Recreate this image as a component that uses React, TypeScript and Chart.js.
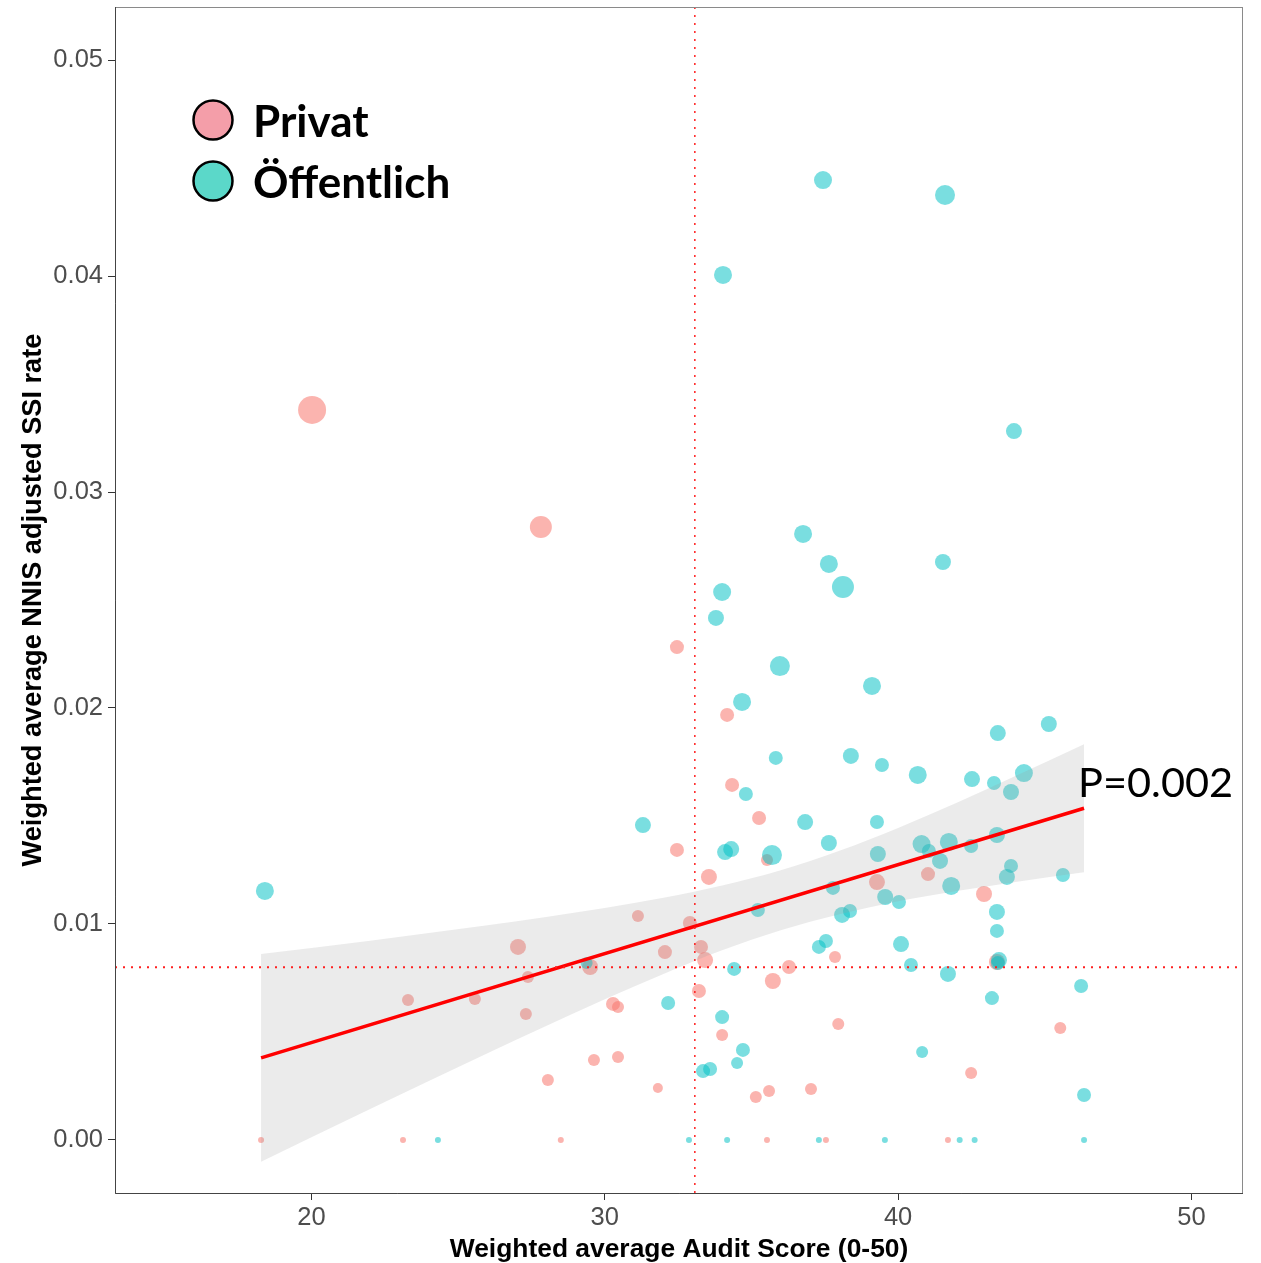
import React, { useEffect, useRef } from 'react';
import { Chart, registerables } from 'chart.js';

Chart.register(...registerables);

// ---- Data ----
const privatX = [20.02, 27.82, 32.46, 34.17, 34.34, 35.26, 32.46, 35.53, 33.55, 39.28, 41.02, 42.93, 31.13, 32.90, 27.04, 33.28, 32.05, 33.42, 27.38, 36.28, 37.85, 43.37, 29.50, 33.21, 35.73, 23.29, 25.57, 27.31, 30.28, 30.45, 34.00, 37.96, 45.53, 29.63, 30.45, 28.06, 31.81, 35.15, 35.60, 37.03, 42.49, 18.28, 23.12, 28.50, 35.53, 37.54, 41.70];
const privatY = [0.0338, 0.02838, 0.02282, 0.01968, 0.01644, 0.01491, 0.01343, 0.01296, 0.01218, 0.01194, 0.01231, 0.01139, 0.01037, 0.01005, 0.00894, 0.00894, 0.0087, 0.00833, 0.00755, 0.00801, 0.00847, 0.00824, 0.00801, 0.0069, 0.00736, 0.00648, 0.00653, 0.00583, 0.0063, 0.00616, 0.00486, 0.00537, 0.00519, 0.0037, 0.00384, 0.00278, 0.00241, 0.00199, 0.00227, 0.00236, 0.0031, 0, 0, 0, 0, 0, 0];
const privatWeight = [784, 484, 196, 196, 196, 196, 196, 144, 256, 256, 196, 256, 144, 196, 256, 196, 196, 256, 144, 196, 144, 256, 256, 196, 256, 144, 144, 144, 196, 144, 144, 144, 144, 144, 144, 144, 100, 144, 144, 144, 144, 36, 36, 36, 36, 36, 36];

const oeffX = [37.44, 41.60, 34.03, 18.41, 43.95, 36.76, 37.64, 38.12, 41.53, 34.00, 33.79, 35.97, 39.11, 34.68, 45.14, 43.40, 35.83, 38.39, 39.45, 40.67, 42.52, 43.27, 44.29, 43.85, 34.81, 31.30, 36.83, 39.28, 37.64, 34.10, 34.31, 35.70, 40.80, 41.73, 41.05, 43.37, 39.31, 41.43, 42.49, 43.85, 43.71, 45.62, 37.78, 39.56, 40.03, 41.81, 35.22, 38.09, 38.36, 43.37, 43.37, 37.30, 37.54, 40.10, 40.44, 43.44, 43.40, 34.41, 41.70, 46.24, 32.16, 43.20, 34.00, 34.71, 34.51, 33.35, 33.59, 40.82, 46.34, 29.38, 24.31, 32.87, 34.17, 37.30, 39.55, 42.10, 42.61, 46.34];
const oeffY = [0.04444, 0.04375, 0.04005, 0.01153, 0.03282, 0.02806, 0.02667, 0.0256, 0.02676, 0.02537, 0.02417, 0.02194, 0.02102, 0.02028, 0.01926, 0.01884, 0.01769, 0.01778, 0.01736, 0.0169, 0.01671, 0.01653, 0.01699, 0.01611, 0.01602, 0.01458, 0.01472, 0.01472, 0.01375, 0.01333, 0.01347, 0.01319, 0.0137, 0.0138, 0.01338, 0.01412, 0.01324, 0.01292, 0.01361, 0.01269, 0.01218, 0.01227, 0.01167, 0.01125, 0.01102, 0.01176, 0.01065, 0.01042, 0.0106, 0.01056, 0.00968, 0.00894, 0.00921, 0.00907, 0.0081, 0.00833, 0.00819, 0.00792, 0.00769, 0.00713, 0.00634, 0.00657, 0.00569, 0.00417, 0.00356, 0.00319, 0.00329, 0.00407, 0.00208, 0.00819, 0, 0, 0, 0, 0, 0, 0, 0];
const oeffWeight = [324, 400, 324, 324, 256, 324, 324, 484, 256, 324, 256, 400, 324, 324, 256, 256, 196, 256, 196, 324, 256, 196, 324, 256, 196, 256, 256, 196, 256, 256, 256, 400, 324, 324, 196, 256, 256, 256, 196, 196, 256, 196, 196, 256, 196, 324, 196, 256, 196, 256, 196, 196, 196, 256, 196, 256, 196, 196, 256, 196, 196, 196, 196, 196, 144, 196, 196, 144, 196, 144, 36, 36, 36, 36, 36, 36, 36, 36];

// regression fit and its confidence band
const fitX = [18.28, 46.34];
const fitY = [0.0038, 0.01536];
const bandX = [18.28, 22, 26, 30, 32, 34, 36, 38, 40, 42, 44, 46.34];
const bandUpper = [0.00861, 0.00923, 0.00994, 0.01074, 0.01121, 0.01178, 0.01249, 0.01339, 0.01445, 0.01561, 0.01685, 0.01832];
const bandLower = [-0.00101, 0.00143, 0.00402, 0.00652, 0.00769, 0.00878, 0.00971, 0.01045, 0.01105, 0.01153, 0.01195, 0.0124];

// reference lines
const refX = 33.07;
const refY = 0.008;

// axes
const xTicks = [20, 30, 40, 50];
const yTicks = [0, 0.01, 0.02, 0.03, 0.04, 0.05];
const xRange = [13.3, 51.76];
const yRange = [-0.002454, 0.052454];

const seriesNames = ['Privat', 'Öffentlich'];
const pValueText = 'P=0.002';
const xTitle = 'Weighted average Audit Score (0-50)';
const yTitle = 'Weighted average NNIS adjusted SSI rate';

const radiusOf = (w: number) => Math.sqrt(w) / 2;

const overlayPlugin = {
  id: 'overlay',
  afterDraw(chart: any) {
    const { ctx, chartArea } = chart;
    ctx.save();
    // panel border
    ctx.strokeStyle = '#8a8a8a';
    ctx.lineWidth = 1;
    ctx.strokeRect(chartArea.left + 0.5, chartArea.top + 0.5, chartArea.right - chartArea.left - 1, chartArea.bottom - chartArea.top);
    ctx.strokeStyle = '#444';
    ctx.beginPath();
    ctx.moveTo(chartArea.left + 0.5, chartArea.top);
    ctx.lineTo(chartArea.left + 0.5, chartArea.bottom + 0.5);
    ctx.lineTo(chartArea.right, chartArea.bottom + 0.5);
    ctx.stroke();

    // legend
    const legendColors = ['#F49EA9', '#5BD8C9'];
    const cx = chartArea.left + 98;
    const rows = [chartArea.top + 113, chartArea.top + 174];
    seriesNames.forEach((name, i) => {
      ctx.beginPath();
      ctx.arc(cx, rows[i], 19.5, 0, Math.PI * 2);
      ctx.fillStyle = legendColors[i];
      ctx.fill();
      ctx.lineWidth = 2.5;
      ctx.strokeStyle = '#000';
      ctx.stroke();
      ctx.fillStyle = '#000';
      ctx.font = 'bold 44px Lato, "Open Sans", sans-serif';
      ctx.textAlign = 'left';
      ctx.textBaseline = 'alphabetic';
      ctx.fillText(name, cx + 40, rows[i] + 17);
    });

    // p-value
    const xs = chart.scales.x;
    const ys = chart.scales.y;
    ctx.font = '41.5px Lato, "Open Sans", sans-serif';
    ctx.fillStyle = '#000';
    ctx.textAlign = 'left';
    ctx.textBaseline = 'alphabetic';
    ctx.fillText(pValueText, xs.getPixelForValue(fitX[1]) - 6, ys.getPixelForValue(fitY[1]) - 11);
    ctx.restore();
  },
};

export default function App() {
  const ref = useRef<HTMLCanvasElement | null>(null);

  useEffect(() => {
    if (!ref.current) return;
    const tickFont = { family: '"Liberation Sans", Arial, sans-serif', size: 25.5 };
    const xTitleFont = { family: '"Liberation Sans", Arial, sans-serif', size: 26.4, weight: 'bold' as const };
    const yTitleFont = { family: '"Liberation Sans", Arial, sans-serif', size: 27.2, weight: 'bold' as const };

    const chart = new Chart(ref.current, {
      type: 'scatter',
      data: {
        datasets: [
          {
            type: 'line',
            label: 'refH',
            data: [{ x: xRange[0], y: refY }, { x: xRange[1], y: refY }],
            borderColor: '#FF2020',
            borderWidth: 2,
            borderDash: [2, 6],
            pointRadius: 0,
            fill: false,
            order: 0,
          } as any,
          {
            type: 'line',
            label: 'refV',
            data: [{ x: refX, y: yRange[0] }, { x: refX, y: yRange[1] }],
            borderColor: '#FF2020',
            borderWidth: 1.5,
            borderDash: [2, 6],
            pointRadius: 0,
            fill: false,
            order: 0,
          } as any,
          {
            type: 'line',
            label: 'fit',
            data: fitX.map((x, i) => ({ x, y: fitY[i] })),
            borderColor: '#FF0000',
            borderWidth: 3.5,
            pointRadius: 0,
            fill: false,
            order: 1,
          } as any,
          {
            type: 'line',
            label: 'bandUpper',
            data: bandX.map((x, i) => ({ x, y: bandUpper[i] })),
            borderWidth: 0,
            borderColor: 'rgba(0,0,0,0)',
            backgroundColor: 'rgba(153,153,153,0.2)',
            pointRadius: 0,
            cubicInterpolationMode: 'monotone',
            fill: '+1',
            order: 2,
          } as any,
          {
            type: 'line',
            label: 'bandLower',
            data: bandX.map((x, i) => ({ x, y: bandLower[i] })),
            borderWidth: 0,
            borderColor: 'rgba(0,0,0,0)',
            pointRadius: 0,
            cubicInterpolationMode: 'monotone',
            fill: false,
            order: 3,
          } as any,
          {
            label: seriesNames[0],
            data: privatX.map((x, i) => ({ x, y: privatY[i] })),
            backgroundColor: 'rgba(248,118,109,0.55)',
            borderWidth: 0,
            pointRadius: (c: any) => radiusOf(privatWeight[c.dataIndex]),
            order: 5,
          },
          {
            label: seriesNames[1],
            data: oeffX.map((x, i) => ({ x, y: oeffY[i] })),
            backgroundColor: 'rgba(0,191,196,0.52)',
            borderWidth: 0,
            pointRadius: (c: any) => radiusOf(oeffWeight[c.dataIndex]),
            order: 4,
          },
        ],
      },
      options: {
        responsive: false,
        animation: false,
        events: [],
        layout: { autoPadding: false, padding: { top: 7, right: 18, left: 0, bottom: 0 } },
        plugins: {
          legend: { display: false },
          tooltip: { enabled: false },
          filler: { drawTime: 'beforeDatasetDraw' } as any,
        },
        scales: {
          x: {
            type: 'linear',
            min: xRange[0],
            max: xRange[1],
            afterBuildTicks: (s: any) => { s.ticks = xTicks.map((v) => ({ value: v })); },
            afterFit: (s: any) => { s.height = 70; s.paddingLeft = 0; s.paddingRight = 0; },
            ticks: { font: tickFont, color: '#4D4D4D', padding: 3, maxRotation: 0, autoSkip: false, callback: (v: any) => String(v) },
            grid: { display: true, drawOnChartArea: false, drawTicks: true, tickLength: 7, color: '#333', lineWidth: 1 },
            border: { display: false },
            title: { display: true, text: xTitle, font: xTitleFont, color: '#000', padding: { top: 0, bottom: -3 } },
          },
          y: {
            type: 'linear',
            min: yRange[0],
            max: yRange[1],
            afterBuildTicks: (s: any) => { s.ticks = yTicks.map((v) => ({ value: v })); },
            afterFit: (s: any) => { s.width = 115; s.paddingTop = 0; s.paddingBottom = 0; },
            ticks: { font: tickFont, color: '#4D4D4D', padding: 5, autoSkip: false, callback: (v: any) => Number(v).toFixed(2) },
            grid: { display: true, drawOnChartArea: false, drawTicks: true, tickLength: 7, color: '#333', lineWidth: 1 },
            border: { display: false },
            title: { display: true, text: yTitle, font: yTitleFont, color: '#000', padding: { top: 17, bottom: 0 } },
          },
        },
      },
      plugins: [overlayPlugin],
    });
    return () => chart.destroy();
  }, []);

  return (
    <div style={{ position: 'absolute', left: 0, top: 0, width: 1261, height: 1263, background: '#fff' }}>
      <canvas ref={ref} width={1261} height={1263} style={{ display: 'block', width: 1261, height: 1263 }} />
    </div>
  );
}
